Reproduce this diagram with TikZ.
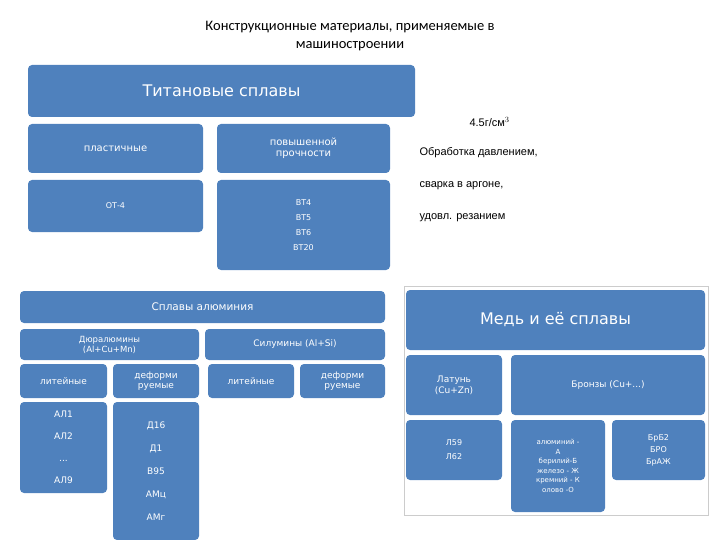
\documentclass[tikz,border=0pt]{standalone}
\usepackage{fontspec}
\setmainfont{Carlito}
\newfontfamily\arialf{Liberation Sans}
\newfontfamily\boxf{DejaVu Sans}
\definecolor{bb}{HTML}{4F81BD}
\begin{document}
\begin{tikzpicture}[x=1pt,y=-1pt,
  bx/.style={fill=bb,rounded corners=4pt,text=white,font=\boxf,align=center,inner sep=0pt},
  rt/.style={anchor=west,font=\arialf\fontsize{11}{13}\selectfont}]
\useasboundingbox (0,0) rectangle (720,540);
\node[font=\fontsize{14.5}{18}\selectfont,align=center] (title) at (350,36) {Конструкционные материалы, применяемые в\\машиностроении};
% titanium
\newcommand\bxat[6]{\node[bx,minimum width=#3-#1,minimum height=#4-#2,font=\boxf#5] (#6) at ({(#1+#3)/2},{(#2+#4)/2})}
\bxat{28}{65}{415}{117}{\fontsize{16}{19}\selectfont}{ti} {Титановые сплавы};
\bxat{28}{124}{203}{173}{\fontsize{10}{12}\selectfont}{pl} {пластичные};
\bxat{217}{124}{390}{173}{\fontsize{10}{11}\selectfont}{pp} {повышенной\\прочности};
\bxat{28}{180}{203}{232}{\fontsize{8}{10}\selectfont}{ot} {ОТ-4};
\bxat{217}{180}{390}{270}{\fontsize{8}{15}\selectfont}{vt} {ВТ4\\ВТ5\\ВТ6\\ВТ20};
\node[rt] (d) at (466,122) {4.5г/см$^3$};
\node[rt] (p1) at (416,153) {Обработка давлением,};
\node[rt] (p2) at (416,186) {сварка в аргоне,};
\node[rt] (p3) at (416,218) {удовл. резанием};
% aluminium
\bxat{20}{291}{385}{323}{\fontsize{10.5}{12}\selectfont}{al} {Сплавы алюминия};
\bxat{20}{329}{199}{360}{\fontsize{8.5}{10}\selectfont}{du} {Дюралюмины\\(Al+Cu+Mn)};
\bxat{205}{329}{385}{360}{\fontsize{9}{11}\selectfont}{si} {Силумины (Al+Si)};
\bxat{20}{364}{107}{398}{\fontsize{9}{11}\selectfont}{l1} {литейные};
\bxat{113}{364}{199}{398}{\fontsize{9}{10}\selectfont}{d1} {деформи\\руемые};
\bxat{208}{364}{294}{398}{\fontsize{9}{11}\selectfont}{l2} {литейные};
\bxat{300}{364}{385}{398}{\fontsize{9}{10}\selectfont}{d2} {деформи\\руемые};
\bxat{20}{402}{107}{493}{\fontsize{9}{22}\selectfont}{a1} {АЛ1\\АЛ2\\...\\АЛ9};
\bxat{113}{402}{199}{540}{\fontsize{9}{23}\selectfont}{a2} {Д16\\Д1\\В95\\АМц\\АМг};
% copper
\draw[gray!40] (404,286) rectangle (708,515);
\bxat{406}{290}{705}{350}{\fontsize{16}{19}\selectfont}{cu} {Медь и её сплавы};
\bxat{406}{355}{502}{415}{\fontsize{9}{11}\selectfont}{la} {Латунь\\(Cu+Zn)};
\bxat{511}{355}{705}{415}{\fontsize{9}{11}\selectfont}{br} {Бронзы (Cu+...)};
\bxat{406}{420}{502}{480}{\fontsize{8}{14}\selectfont}{l5} {Л59\\Л62};
\bxat{511}{420}{605}{512}{\fontsize{7}{9.5}\selectfont}{el} {алюминий -\\А\\берилий-Б\\железо - Ж\\кремний - К\\олово -О};
\bxat{612}{420}{705}{480}{\fontsize{8}{12}\selectfont}{bm} {БрБ2\\БРО\\БрАЖ};
\end{tikzpicture}
\end{document}
